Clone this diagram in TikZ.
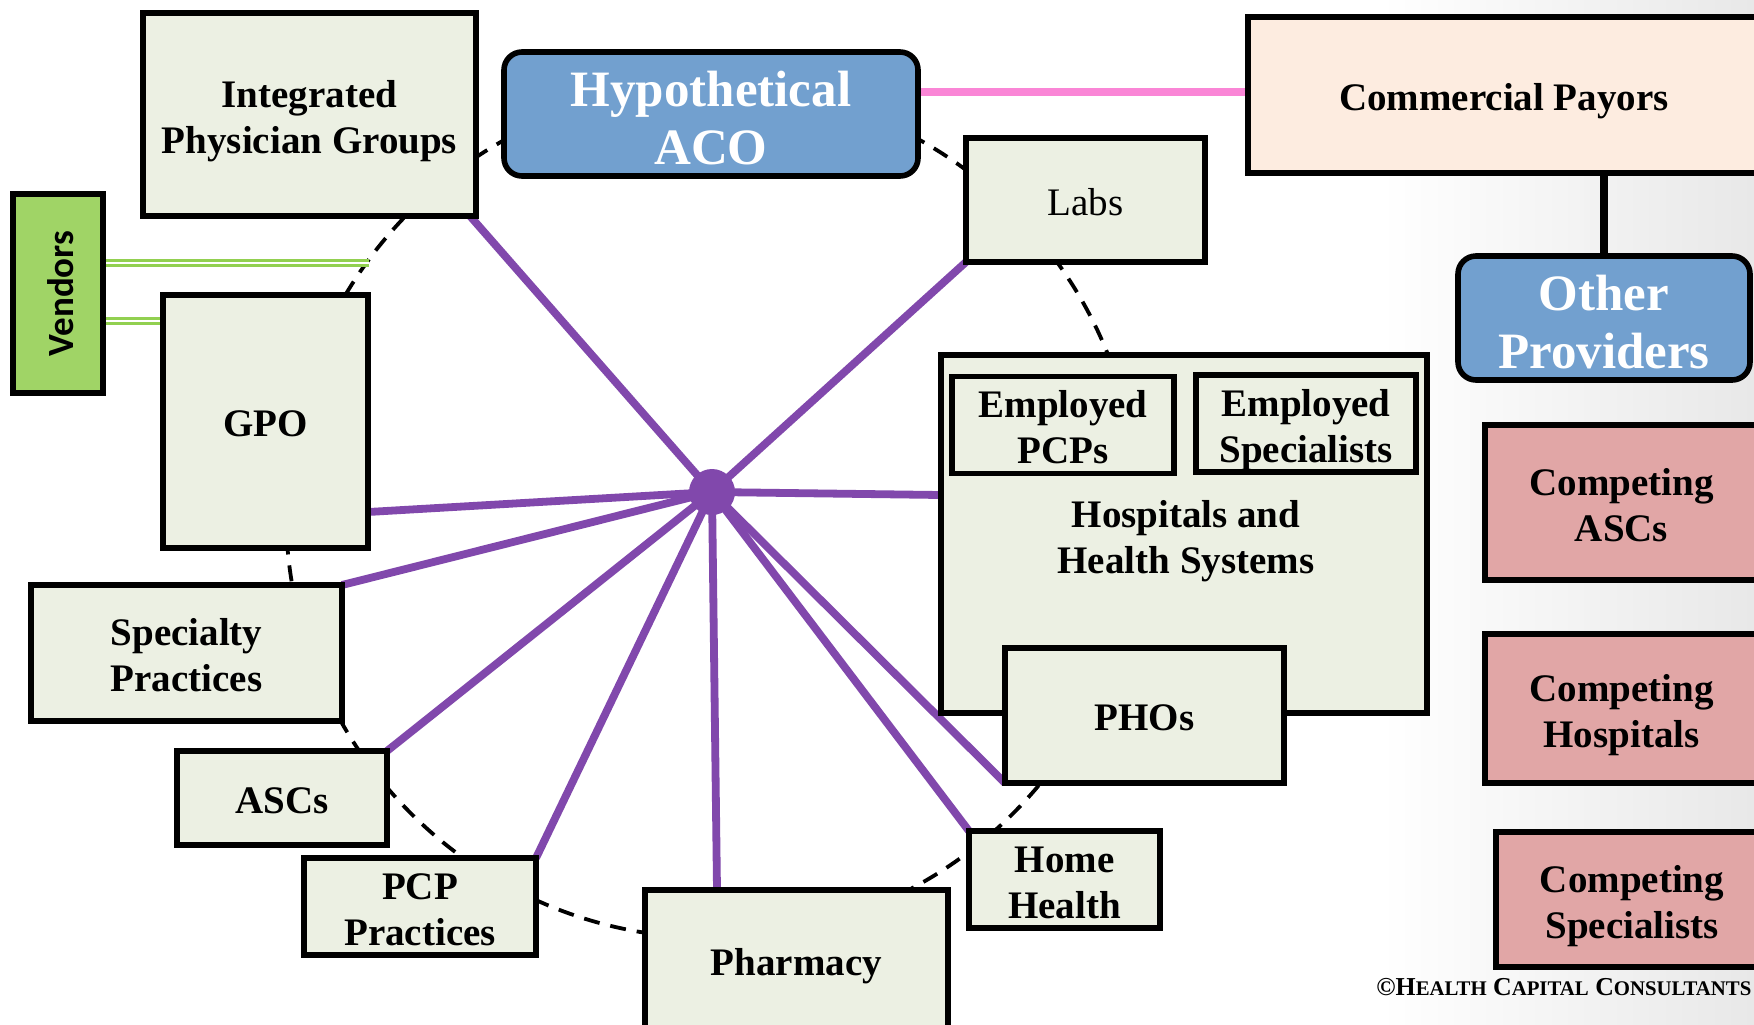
\documentclass[tikz,border=0pt]{standalone}
\usepackage{fontspec}
\setmainfont{Liberation Serif}
\newfontfamily\vendfont{Carlito}
\usetikzlibrary{calc}

\definecolor{boxfill}{RGB}{236,240,227}
\definecolor{acoblue}{RGB}{114,160,207}
\definecolor{payorfill}{RGB}{253,236,224}
\definecolor{compfill}{RGB}{225,166,166}
\definecolor{spokepurple}{RGB}{129,72,172}
\definecolor{payorpink}{RGB}{250,134,214}
\definecolor{vendgreen}{RGB}{160,212,102}
\definecolor{linkgreen}{RGB}{146,208,80}

\pgfdeclarelayer{backdrop}
\pgfdeclarelayer{links}
\pgfsetlayers{backdrop,links,main}

% faux small capitals for the copyright line
\newcommand\smallcap[1]{{\fontsize{10.4}{12}\selectfont #1}}

\begin{document}
\begin{tikzpicture}[x=0.5pt,y=-0.5pt,
  % invisible struts fix the height/depth around the last baseline so
  % every label sits at the same place whatever its letters
  box/.style={draw=black, line width=2.8pt, fill=boxfill, inner sep=0pt, outer sep=0pt,
    align=center, font=\bfseries\fontsize{19.5}{23}\selectfont,
    execute at begin node={\rule[-5pt]{0pt}{25pt}}},
  twoline/.style={execute at begin node={\rule[-5pt]{0pt}{48.5pt}}},
  rbox/.style={box, fill=acoblue, rounded corners=9pt, text=white,
    font=\bfseries\fontsize{25.5}{29}\selectfont,
    execute at begin node={\rule[-6pt]{0pt}{62pt}}},
  compbox/.style={box, fill=compfill, twoline},
  lbl/.style={align=center, inner sep=0pt, font=\bfseries\fontsize{19.5}{23}\selectfont},
  spoke/.style={draw=spokepurple, line width=3.9pt},
  ring/.style={draw=black, line width=1.9pt, dash pattern=on 8pt off 5.5pt},
  vendlink/.style={draw=linkgreen, line width=1.2pt, double=white, double distance=1.3pt},
  payorlink/.style={draw=payorpink, line width=3.6pt},
  provlink/.style={draw=black, line width=4.2pt}]

\useasboundingbox (0,0) rectangle (1754,1024);
\clip (0,0) rectangle (1754,1024);

\begin{pgfonlayer}{backdrop}
  \fill[white] (0,0) rectangle (1754,1024);
  \shade[left color=white, right color=black!9] (1380,0) rectangle (1754,1024);
\end{pgfonlayer}

% ACO members around the hub
\node[box, twoline, minimum width=166.5pt, minimum height=101.5pt] (ipg) at (309.5,114.5) {Integrated\\Physician Groups};
\node[rbox, minimum width=207pt, minimum height=59pt] (aco) at (711,114) {Hypothetical\\ACO};
\node[box, font=\fontsize{19.5}{23}\selectfont, minimum width=119.5pt, minimum height=62pt] (labs) at (1085.5,200) {Labs};
\node[box, fill=vendgreen, execute at begin node={}, minimum width=45pt, minimum height=99.5pt] (vend) at (58,293.5)
  {\rotatebox{90}{\vendfont\bfseries\fontsize{18.5}{22}\selectfont\rule{0pt}{16pt}Vendors\hspace{5pt}}};
\node[box, minimum width=102.5pt, minimum height=126.5pt] (gpo) at (265.5,421.5) {GPO};
\node[box, execute at begin node={}, minimum width=243pt, minimum height=179pt] (hosp) at (1184,534) {};
\node[box, twoline, minimum width=111pt, minimum height=46pt] (epcp) at (1063,425) {Employed\\PCPs};
\node[box, twoline, minimum width=110pt, minimum height=44.5pt] (espec) at (1306,423.5) {Employed\\Specialists};
\node[lbl] (hosptext) at (1186,541) {Hospitals and\\Health Systems};
\node[box, minimum width=139.5pt, minimum height=67.5pt] (pho) at (1144.5,715.5) {PHOs};
\node[box, twoline, minimum width=155.5pt, minimum height=68pt] (spec) at (186.5,653) {Specialty\\Practices};
\node[box, minimum width=105pt, minimum height=47pt] (ascs) at (282,798) {ASCs};
\node[box, twoline, minimum width=116pt, minimum height=48.5pt] (pcp) at (420,906.5) {PCP\\Practices};
\node[box, minimum width=151.5pt, minimum height=70pt] (pharm) at (796.5,960) {Pharmacy};
\node[box, twoline, minimum width=95.5pt, minimum height=46.5pt] (home) at (1064.5,879.5) {Home\\Health};

% payors, other providers and competitors
\node[box, fill=payorfill, minimum width=256pt, minimum height=78pt] (cp) at (1504,95) {Commercial Payors};
\node[rbox, minimum width=146pt, minimum height=58pt] (op) at (1604,318) {Other\\Providers};
\node[compbox, minimum width=136.5pt, minimum height=77.5pt] (cascs) at (1621.5,502.5) {Competing\\ASCs};
\node[compbox, minimum width=136.5pt, minimum height=74.5pt] (chosp) at (1621.5,708.5) {Competing\\Hospitals};
\node[compbox, minimum width=136pt, minimum height=67.5pt] (cspec) at (1632,899.5) {Competing\\Specialists};

\node[anchor=base west, inner sep=0pt, font=\bfseries\fontsize{12.9}{15}\selectfont] (copy) at (1376,995)
  {©H\smallcap{EALTH} C\smallcap{APITAL} C\smallcap{ONSULTANTS}};

% hub
\node[circle, fill=spokepurple, minimum size=23pt, inner sep=0pt] (hub) at (712,492) {};
\coordinate (ringc) at (712,512);

\begin{pgfonlayer}{links}
  \draw[ring] (ringc) circle[radius=426];
  \draw[spoke] (hub.center) -- ($(ipg.south east)+(-6,0)$);
  \draw[spoke] (hub.center) -- (labs.south west);
  \draw[spoke] (hub.center) -- ($(gpo.south east)+(0,-36)$);
  \draw[spoke] (hub.center) -- (spec.north east);
  \draw[spoke] (hub.center) -- ($(hosp.north west)+(0,140)$);
  \draw[spoke] (hub.center) -- (ascs.north east);
  \draw[spoke] (hub.center) -- (pcp.north east);
  \draw[spoke] (hub.center) -- ($(pharm.north west)+(72,0)$);
  \draw[spoke] (hub.center) -- (home.north west);
  \draw[spoke] (hub.center) -- (pho.south west);
  \draw[payorlink] ($(aco.north east)+(0,40)$) coordinate (pk) -- (cp.west |- pk);
  \draw[provlink] (op.north) -- (op.north |- cp.south);
  \coordinate (vtop) at (369,263);
  \draw[vendlink] (vend.east |- vtop) -- (vtop);
  \draw[vendlink] ($(vend.north east)+(0,127)$) coordinate (vlow) -- (gpo.west |- vlow);
\end{pgfonlayer}
\end{tikzpicture}
\end{document}
